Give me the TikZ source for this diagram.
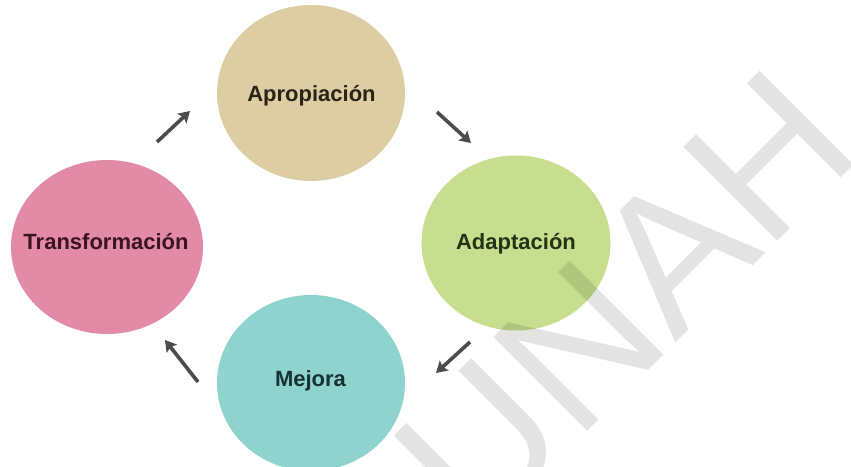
\documentclass[tikz,border=0pt]{standalone}
\usepackage{fontspec}
\setmainfont{Liberation Sans}
\usetikzlibrary{shapes.geometric,arrows.meta}
\definecolor{cApro}{HTML}{DCCDA3}
\definecolor{cAdap}{HTML}{C6DE8E}
\definecolor{cMejo}{HTML}{8FD3CF}
\definecolor{cTrans}{HTML}{E38BA6}
\definecolor{tApro}{HTML}{2A2416}
\definecolor{tAdap}{HTML}{253315}
\definecolor{tMejo}{HTML}{173232}
\definecolor{tTrans}{HTML}{3A1422}
\definecolor{arrowgray}{HTML}{4C4C4C}
\tikzset{
  disc/.style={ellipse, inner sep=0pt, draw=none},
  stagelabel/.style={inner sep=0pt, text height=15.8bp, text depth=0pt,
    font=\fontsize{22bp}{26bp}\selectfont\bfseries},
  cyclearrow/.style={draw=arrowgray, line width=3.6bp,
    -{Stealth[length=11bp,width=13bp,inset=2bp]}},
  watermark/.style={font=\fontsize{193bp}{193bp}\selectfont, text=black,
    text opacity=0.11, rotate=45, inner sep=0pt}
}
\begin{document}
\begin{tikzpicture}[x=1bp,y=-1bp]
\useasboundingbox (0,0) rectangle (851,467);
\fill[white] (0,0) rectangle (851,467);
% discs
\node[disc, fill=cApro,  minimum width=188bp, minimum height=176bp] (apro)  at (311,93)  {};
\node[disc, fill=cAdap,  minimum width=189bp, minimum height=175bp] (adap)  at (516,243) {};
\node[disc, fill=cMejo,  minimum width=188bp, minimum height=176bp] (mejo)  at (311,383) {};
\node[disc, fill=cTrans, minimum width=192bp, minimum height=174bp] (trans) at (107,247) {};
% labels
\node[stagelabel, text=tApro]  (aproL)  at (311.5,93.5) {Apropiación};
\node[stagelabel, text=tAdap]  (adapL)  at (516,242)    {Adaptación};
\node[stagelabel, text=tMejo]  (mejoL)  at (310.5,379)  {Mejora};
\node[stagelabel, text=tTrans] (transL) at (106,241.5)  {Transformación};
% arrows
\coordinate (a1s) at (157,142); \coordinate (a1e) at (190,111);
\coordinate (a2s) at (437,112); \coordinate (a2e) at (471,143);
\coordinate (a3s) at (470,342); \coordinate (a3e) at (436,373);
\coordinate (a4s) at (198,382); \coordinate (a4e) at (165,340);
\draw[cyclearrow] (a1s) -- (a1e);
\draw[cyclearrow] (a2s) -- (a2e);
\draw[cyclearrow] (a3s) -- (a3e);
\draw[cyclearrow] (a4s) -- (a4e);
% watermark
\node[watermark] (wm) at (625,301) {UNAH};
\end{tikzpicture}
\end{document}
